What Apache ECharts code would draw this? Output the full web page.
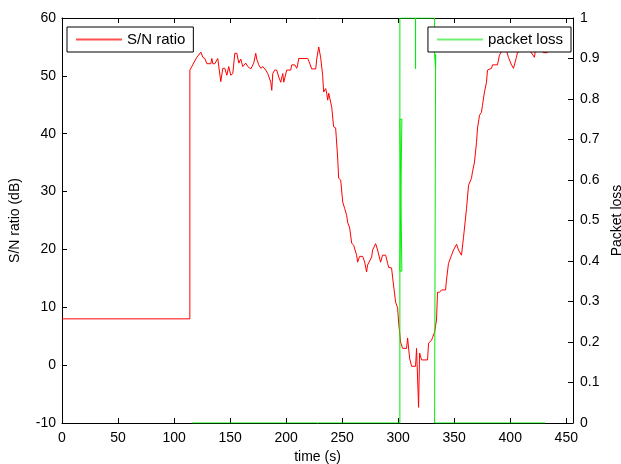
<!DOCTYPE html>
<html>
<head>
<meta charset="utf-8">
<script src="https://cdn.jsdelivr.net/npm/echarts@6/dist/echarts.min.js"></script>
<style>
  html, body { margin: 0; padding: 0; background: #fff; }
  #chart { width: 621px; height: 464px; }
</style>
</head>
<body>
<div id="chart"></div>
<script>
(function () {
  "use strict";

  // ── Data: [time (s), value] ──
  var snRatio = [
    [0, 8], [114.1, 8], [114.1, 51], [120.3, 53.2], [123.9, 54.1], [125.7, 53.2], [127.5, 53],
    [129.2, 52.1], [132.8, 52.1], [133.7, 53], [134.6, 52.1], [136.4, 52.1], [139, 53], [141.7, 49],
    [143.5, 51.3], [145.3, 51.3], [147.1, 50.1], [148.8, 51.6], [150.6, 50.1], [152.4, 50.4],
    [154.2, 53.9], [156, 53.9], [157.8, 52.2], [159.5, 52.9], [161.3, 51.6], [164, 52.2],
    [165.8, 51.6], [168.5, 51.2], [171.1, 52.2], [172.9, 53.9], [173.8, 52.9], [175.6, 51.9],
    [177.4, 51.3], [179.2, 51.6], [181.8, 51], [183.6, 50.4], [186.3, 48.9], [187.2, 47.5],
    [188.1, 50.4], [189.8, 51], [191.6, 51], [193.4, 49.8], [195.2, 48.9], [197, 50.4],
    [197.9, 48.9], [200.5, 51], [204.1, 51], [205, 51.9], [207.7, 51.9], [209.5, 51.3],
    [210.3, 51.9], [211.2, 53], [219.3, 53], [221, 52.2], [222.8, 51.2], [226.4, 51.2],
    [227.3, 52.9], [229.1, 55], [230.8, 53.2], [232.6, 50.1], [233.5, 47.2], [235.3, 47.8],
    [236.2, 47], [237.1, 45.8], [238, 47], [240.7, 44.6], [242.4, 41.2], [244.2, 41],
    [246, 35.8], [246.9, 32.3], [248.7, 32], [250.5, 28.2], [252.2, 27.1], [254, 25.9],
    [254.9, 24.7], [256.7, 23.7], [258.5, 21.1], [260.3, 20.7], [262.9, 19], [263.8, 17.8],
    [265.6, 18.8], [268.3, 18.8], [270.1, 17.8], [271.8, 16.1], [272.7, 17.3], [276.3, 18.7],
    [277.2, 19.9], [279.9, 21], [281.6, 19.9], [284.3, 17.8], [286.1, 19], [288.8, 19],
    [290.6, 17.6], [291.5, 16.9], [294.1, 16.8], [295, 15.2], [295.9, 15], [297.7, 10.9],
    [299.5, 9.9], [300.4, 7.3], [301.3, 5.7], [302.1, 4], [303.9, 2.9], [307.5, 2.9],
    [308.4, 4.7], [310.2, 1.2], [312, -0.2], [315.5, -0.2], [316.4, 2.9], [317.3, 2.9],
    [318.2, -7.3], [319.1, 2.1], [320.9, 0.9], [326.2, 0.9], [327.1, 3.8], [329.8, 4.3],
    [330.7, 4.8], [332.5, 5.7], [334.2, 7.8], [335.1, 12.6], [336.9, 12.6], [338.7, 13],
    [342.3, 13], [343.1, 14.7], [344.9, 17.6], [347.6, 19], [349.4, 19.9], [352.1, 20.9],
    [353.8, 19.9], [356.5, 19], [358.3, 22.1], [361, 27.1], [362.8, 31.1], [365.4, 32.3],
    [366.3, 33.4], [368.1, 35.1], [369.9, 38.5], [370.8, 41], [372.6, 43.2], [374.3, 43.7],
    [375.2, 44.9], [377, 47.2], [378.8, 48.9], [379.7, 51], [383.3, 51.3], [384.1, 51.9],
    [388.6, 51.9], [390.4, 53.6], [393.1, 54.5], [395.7, 55], [398.4, 53.2], [401.1, 51.9],
    [402.9, 51.3], [405.5, 53.2], [406.4, 54], [410, 54.5], [413.6, 55.5], [417.1, 54.5],
    [421.6, 53.2], [422.5, 54.5], [426, 55], [429.6, 54], [433.2, 54]
  ];

  var packetLoss = [
    [116, 0], [301.5, 0], [301.5, 0.375], [303.3, 0.75], [301.5, 0.75], [303.3, 0.375],
    [301.5, 0.375], [301.5, 1], [315.5, 1], [315.5, 0.875], [315.5, 1], [332.5, 1],
    [332.5, 0.91], [333.4, 0.875], [332.5, 0.875], [333.4, 0.91], [332.5, 0.91],
    [332.5, 0], [431, 0]
  ];

  var TIME_MAX = 456;
  var SN_MIN = -10, SN_MAX = 60;

  var RED = "#ff0000";
  var GREEN = "#00ee00";
  var FONT = "Liberation Sans, Arial, sans-serif";
  var textStyle = { color: "#000", fontFamily: FONT, fontSize: 14 };

  var chart = echarts.init(document.getElementById("chart"), null, { renderer: "canvas" });

  var baseAxisLine = { show: true, onZero: false, lineStyle: { color: "#000", width: 1 } };
  var baseTick = { show: true, inside: true, length: 5, lineStyle: { color: "#000" } };

  var legendBase = {
    top: 27,
    orient: "horizontal",
    backgroundColor: "#fff",
    borderColor: "#000",
    borderWidth: 1,
    borderRadius: 0,
    padding: [5, 8, 5, 9],
    icon: "rect",
    itemWidth: 46,
    itemHeight: 2,
    itemGap: 6,
    z: 10,
    textStyle: { color: "#000", fontFamily: FONT, fontSize: 15, lineHeight: 15 }
  };

  var option = {
    animation: false,
    backgroundColor: "#fff",
    grid: { left: 62, right: 48, top: 18, bottom: 41, containLabel: false, outerBoundsMode: "none" },
    legend: [
      echarts.util.merge({
        left: 67,
        data: [{ name: "S/N ratio", itemStyle: { color: "#ff5050" } }]
      }, legendBase),
      echarts.util.merge({
        right: 50,
        data: [{ name: "packet loss", itemStyle: { color: "#70f070" } }]
      }, legendBase)
    ],
    xAxis: [
      {
        type: "value",
        min: 0,
        max: TIME_MAX,
        interval: 50,
        name: "time (s)",
        nameLocation: "middle",
        nameGap: 25,
        nameTextStyle: textStyle,
        axisLine: baseAxisLine,
        axisTick: baseTick,
        axisLabel: echarts.util.merge({ margin: 8, showMaxLabel: false }, textStyle),
        splitLine: { show: false }
      },
      {
        type: "value",
        position: "top",
        min: 0,
        max: TIME_MAX,
        interval: 50,
        axisLine: baseAxisLine,
        axisTick: baseTick,
        axisLabel: { show: false },
        splitLine: { show: false }
      }
    ],
    yAxis: [
      {
        type: "value",
        min: SN_MIN,
        max: SN_MAX,
        interval: 10,
        name: "S/N ratio (dB)",
        nameLocation: "middle",
        nameRotate: 90,
        nameGap: 40,
        nameTextStyle: textStyle,
        axisLine: baseAxisLine,
        axisTick: baseTick,
        axisLabel: echarts.util.merge({ margin: 6 }, textStyle),
        splitLine: { show: false }
      },
      {
        type: "value",
        position: "right",
        min: 0,
        max: 1,
        interval: 0.1,
        name: "Packet loss",
        nameLocation: "middle",
        nameRotate: 90,
        nameGap: 32,
        nameTextStyle: textStyle,
        axisLine: baseAxisLine,
        axisTick: baseTick,
        axisLabel: echarts.util.merge({
          margin: 7,
          formatter: function (v) { return String(Math.round(v * 10) / 10); }
        }, textStyle),
        splitLine: { show: false }
      }
    ],
    series: [
      {
        name: "S/N ratio",
        type: "line",
        xAxisIndex: 0,
        yAxisIndex: 0,
        symbol: "none",
        lineStyle: { color: RED, width: 1 },
        itemStyle: { color: RED },
        data: snRatio,
        z: 2
      },
      {
        name: "packet loss",
        type: "line",
        xAxisIndex: 0,
        yAxisIndex: 1,
        symbol: "none",
        lineStyle: { color: GREEN, width: 1 },
        itemStyle: { color: GREEN },
        data: packetLoss,
        z: 3
      }
    ]
  };

  chart.setOption(option);
})();
</script>
</body>
</html>
